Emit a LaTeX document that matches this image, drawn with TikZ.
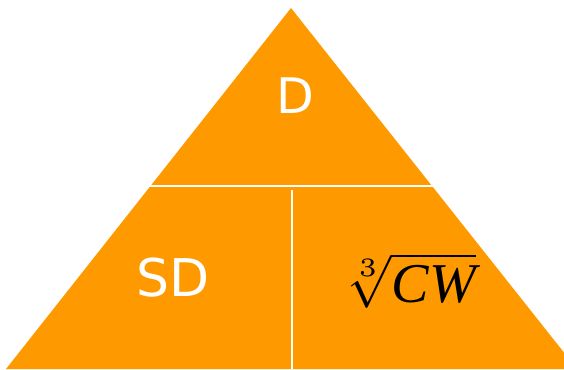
\documentclass[tikz,border=0pt]{standalone}
\usepackage{fontspec}
\setsansfont{DejaVu Sans}
\newfontfamily\timesfont{Liberation Serif}
\definecolor{pptorange}{HTML}{FF9900}

\begin{document}
\begin{tikzpicture}[x=1pt,y=-1pt,
  part/.style={text=white,anchor=base,inner sep=0pt,
    font=\sffamily\fontsize{49}{49}\selectfont},
  formula/.style={text=black,anchor=base,inner sep=0pt},
  divider/.style={white,line width=2pt}
]
  \useasboundingbox (0,0) rectangle (564,369);
  \clip (0,0) rectangle (564,369);

  % triangle corners
  \coordinate (apex) at (291,8);
  \coordinate (baseleft) at (6,369);
  \coordinate (baseright) at (577,369);
  \fill[pptorange] (apex) -- (baseleft) -- (baseright) -- cycle;

  % dividers
  \coordinate (midleft) at (0,186);
  \coordinate (midright) at (564,186);
  \coordinate (splittop) at (292,190);
  \coordinate (splitbottom) at (292,369);
  \draw[divider] (midleft) -- (midright);
  \draw[divider] (splittop) -- (splitbottom);

  \node[part] (density) at (295.5,113) {D};
  \node[part,font=\sffamily\fontsize{52}{52}\selectfont] (sdvalue) at (173.5,296) {SD};
  \node[formula] (cuberoot) at (410,302)
    {\scalebox{5.3}{$\sqrt[\scriptscriptstyle 3]{\mbox{\timesfont\itshape\fontsize{10.6}{10.6}\selectfont CW}}$}};
\end{tikzpicture}
\end{document}
